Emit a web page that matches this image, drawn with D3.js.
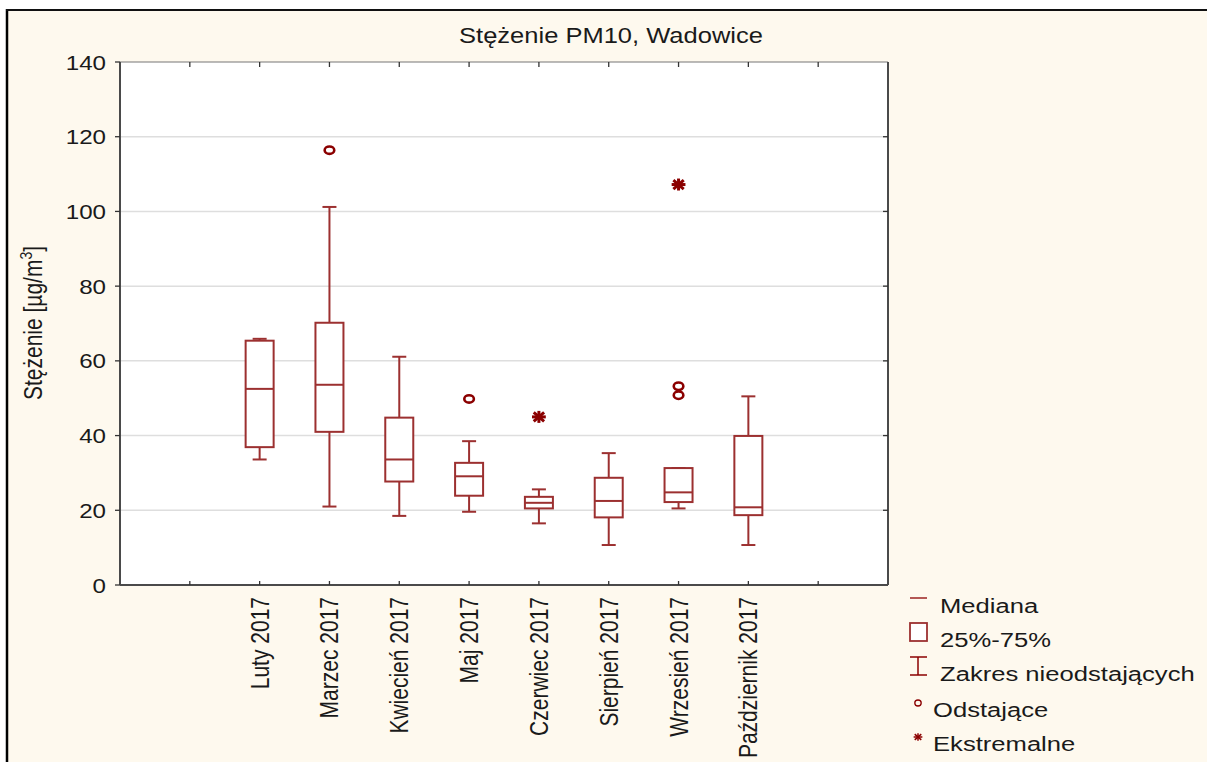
<!DOCTYPE html>
<html>
<head>
<meta charset="utf-8">
<script src="https://cdn.jsdelivr.net/npm/d3@7/dist/d3.min.js"></script>
<style>
  html, body { margin: 0; padding: 0; background: #ffffff; }
  svg { display: block; }
  text { font-family: "Liberation Sans", Arial, sans-serif; fill: #1a1a1a; }
</style>
</head>
<body>
<svg id="chart" width="1207" height="762"></svg>
<script>
// PM10 concentration in Wadowice, monthly box plots (2017)
const categories = ["Luty 2017", "Marzec 2017", "Kwiecień 2017", "Maj 2017",
                    "Czerwiec 2017", "Sierpień 2017", "Wrzesień 2017", "Październik 2017"];
const whiskerLow  = [33.6, 21.0, 18.5, 19.6, 16.5, 10.7, 20.5, 10.7];
const q1          = [36.9, 41.0, 27.7, 23.9, 20.5, 18.1, 22.2, 18.7];
const median      = [52.5, 53.6, 33.6, 29.1, 22.0, 22.5, 24.8, 20.8];
const q3          = [65.4, 70.2, 44.8, 32.7, 23.6, 28.7, 31.3, 39.9];
const whiskerHigh = [65.9, 101.2, 61.1, 38.5, 25.6, 35.3, 31.3, 50.5];
const outliers    = [[], [116.4], [], [49.8], [], [], [53.2, 50.8], []];
const extremes    = [[], [], [], [], [45.0], [], [107.2], []];
const yTicks      = [0, 20, 40, 60, 80, 100, 120, 140];
const legendItems = ["Mediana", "25%-75%", "Zakres nieodstających", "Odstające", "Ekstremalne"];

const svg = d3.select("#chart");
const W = 1207, H = 762;
const plot = { left: 120, right: 888, top: 62, bottom: 585 };
const SX = 1.19;               // horizontal text stretch
const lineCol = "#9c3030";
const markCol = "#8b0000";

// outer panel with frame on left and top
svg.append("rect").attr("x", 0).attr("y", 0).attr("width", W).attr("height", H).attr("fill", "#ffffff");
svg.append("rect").attr("x", 8).attr("y", 10).attr("width", W - 8).attr("height", H - 10).attr("fill", "#fef9ee");
svg.append("line").attr("x1", 7).attr("x2", 7).attr("y1", 9).attr("y2", H).attr("stroke", "#000").attr("stroke-width", 2.5);
svg.append("line").attr("x1", 6).attr("x2", W).attr("y1", 10).attr("y2", 10).attr("stroke", "#111").attr("stroke-width", 2);

// scales
const slots = ["__start", ...categories, "__end"];
const x = d3.scalePoint().domain(slots).range([plot.left, plot.right]).padding(1);
const y = d3.scaleLinear().domain([0, 140]).range([plot.bottom, plot.top]);

// plot background
svg.append("rect").attr("x", plot.left).attr("y", plot.top)
  .attr("width", plot.right - plot.left).attr("height", plot.bottom - plot.top).attr("fill", "#ffffff");

// gridlines
svg.append("g").selectAll("line").data(yTicks.filter(v => v > 0 && v < 140)).join("line")
  .attr("x1", plot.left).attr("x2", plot.right)
  .attr("y1", d => y(d)).attr("y2", d => y(d))
  .attr("stroke", "#dedede").attr("stroke-width", 1.5);

// frame of the plot area
const frame = svg.append("g").attr("stroke", "#4a4a4a").attr("fill", "none");
frame.append("line").attr("x1", plot.left).attr("x2", plot.right).attr("y1", plot.top).attr("y2", plot.top).attr("stroke", "#777").attr("stroke-width", 1.2);
frame.append("line").attr("x1", plot.left).attr("x2", plot.right).attr("y1", plot.bottom).attr("y2", plot.bottom).attr("stroke-width", 2);
frame.append("line").attr("x1", plot.left).attr("x2", plot.left).attr("y1", plot.top).attr("y2", plot.bottom).attr("stroke-width", 2);
frame.append("line").attr("x1", plot.right).attr("x2", plot.right).attr("y1", plot.top).attr("y2", plot.bottom).attr("stroke-width", 2);

// ticks
const ticks = svg.append("g").attr("stroke", "#333").attr("stroke-width", 1.3);
ticks.selectAll(".lt").data(yTicks).join("line").attr("class", "lt")
  .attr("x1", plot.left - 5).attr("x2", plot.left).attr("y1", d => y(d)).attr("y2", d => y(d));
ticks.selectAll(".rt").data(yTicks.filter(v => v > 0 && v < 140)).join("line").attr("class", "rt")
  .attr("x1", plot.right - 5).attr("x2", plot.right).attr("y1", d => y(d)).attr("y2", d => y(d));
ticks.selectAll(".bt").data(slots).join("line").attr("class", "bt")
  .attr("x1", d => x(d)).attr("x2", d => x(d)).attr("y1", plot.bottom - 4).attr("y2", plot.bottom);
ticks.selectAll(".tt").data(slots).join("line").attr("class", "tt")
  .attr("x1", d => x(d)).attr("x2", d => x(d)).attr("y1", plot.top).attr("y2", plot.top + 5);

// y tick labels
svg.append("g").selectAll("text").data(yTicks).join("text")
  .attr("transform", d => `translate(106,${y(d)}) scale(1.15,1)`)
  .attr("text-anchor", "end").attr("dy", "0.36em")
  .style("font-size", "21px").text(d => d);

// x tick labels, rotated
svg.append("g").selectAll("text").data(categories).join("text")
  .attr("transform", d => `translate(${x(d)},597) scale(${SX},1) rotate(-90)`)
  .attr("text-anchor", "end").attr("dy", "0.36em")
  .style("font-size", "21px").text(d => d);

// title
svg.append("text").attr("transform", `translate(611,43) scale(1.16,1)`)
  .attr("text-anchor", "middle").style("font-size", "22px").text("Stężenie PM10, Wadowice");

// y axis label
const yl = svg.append("text").attr("transform", `translate(42,323) scale(${SX},1) rotate(-90)`)
  .attr("text-anchor", "middle").style("font-size", "21px");
yl.append("tspan").text("Stężenie [µg/m");
yl.append("tspan").attr("dy", -8).style("font-size", "14px").text("3");
yl.append("tspan").attr("dy", 8).text("]");

// box plots
const boxW = 28, capW = 14;
const boxes = svg.append("g").attr("stroke", lineCol).attr("stroke-width", 2).attr("fill", "none");
categories.forEach((c, i) => {
  const cx = x(c);
  const g = boxes.append("g");
  // whiskers
  if (whiskerHigh[i] > q3[i]) {
    g.append("line").attr("x1", cx).attr("x2", cx).attr("y1", y(q3[i])).attr("y2", y(whiskerHigh[i]));
  }
  g.append("line").attr("x1", cx - capW / 2).attr("x2", cx + capW / 2)
    .attr("y1", y(whiskerHigh[i])).attr("y2", y(whiskerHigh[i]));
  g.append("line").attr("x1", cx).attr("x2", cx).attr("y1", y(q1[i])).attr("y2", y(whiskerLow[i]));
  g.append("line").attr("x1", cx - capW / 2).attr("x2", cx + capW / 2)
    .attr("y1", y(whiskerLow[i])).attr("y2", y(whiskerLow[i]));
  // box
  g.append("rect").attr("x", cx - boxW / 2).attr("y", y(q3[i]))
    .attr("width", boxW).attr("height", y(q1[i]) - y(q3[i])).attr("fill", "#ffffff");
  // median
  g.append("line").attr("x1", cx - boxW / 2).attr("x2", cx + boxW / 2)
    .attr("y1", y(median[i])).attr("y2", y(median[i]));
});

// outlier and extreme markers
function drawCircle(sel, cx, cy, rx, ry, sw) {
  sel.append("ellipse").attr("cx", cx).attr("cy", cy).attr("rx", rx).attr("ry", ry)
    .attr("fill", "none").attr("stroke", markCol).attr("stroke-width", sw);
}
function drawStar(sel, cx, cy, r, sw) {
  const g = sel.append("g").attr("stroke", markCol).attr("stroke-width", sw);
  const rx = r * 1.15;
  g.append("line").attr("x1", cx - rx).attr("x2", cx + rx).attr("y1", cy).attr("y2", cy);
  g.append("line").attr("x1", cx).attr("x2", cx).attr("y1", cy - r).attr("y2", cy + r);
  g.append("line").attr("x1", cx - rx * 0.75).attr("x2", cx + rx * 0.75).attr("y1", cy - r * 0.75).attr("y2", cy + r * 0.75);
  g.append("line").attr("x1", cx - rx * 0.75).attr("x2", cx + rx * 0.75).attr("y1", cy + r * 0.75).attr("y2", cy - r * 0.75);
}
const marks = svg.append("g");
categories.forEach((c, i) => {
  outliers[i].forEach(v => drawCircle(marks, x(c), y(v), 4.8, 3.7, 2.6));
  extremes[i].forEach(v => drawStar(marks, x(c), y(v), 6, 3));
});

// legend
const lg = svg.append("g");
const lx = 918;
lg.append("line").attr("x1", 910).attr("x2", 927).attr("y1", 598).attr("y2", 598)
  .attr("stroke", markCol).attr("stroke-width", 1.3);
lg.append("rect").attr("x", 910).attr("y", 623).attr("width", 17).attr("height", 18)
  .attr("fill", "#ffffff").attr("stroke", lineCol).attr("stroke-width", 1.8);
const wg = lg.append("g").attr("stroke", markCol).attr("stroke-width", 1.5);
wg.append("line").attr("x1", lx).attr("x2", lx).attr("y1", 657).attr("y2", 675);
wg.append("line").attr("x1", 910).attr("x2", 927).attr("y1", 657).attr("y2", 657);
wg.append("line").attr("x1", 910).attr("x2", 927).attr("y1", 675).attr("y2", 675);
drawCircle(lg, lx, 703, 3.2, 3, 1.3);
drawStar(lg, lx, 737, 3.8, 1.5);

const legendX = [940, 940, 940, 933, 933];
const legendY = [613, 647, 681, 717, 751];
lg.selectAll("text").data(legendItems).join("text")
  .attr("transform", (d, i) => `translate(${legendX[i]},${legendY[i]}) scale(1.22,1)`)
  .style("font-size", "21px").text(d => d);
</script>
</body>
</html>
